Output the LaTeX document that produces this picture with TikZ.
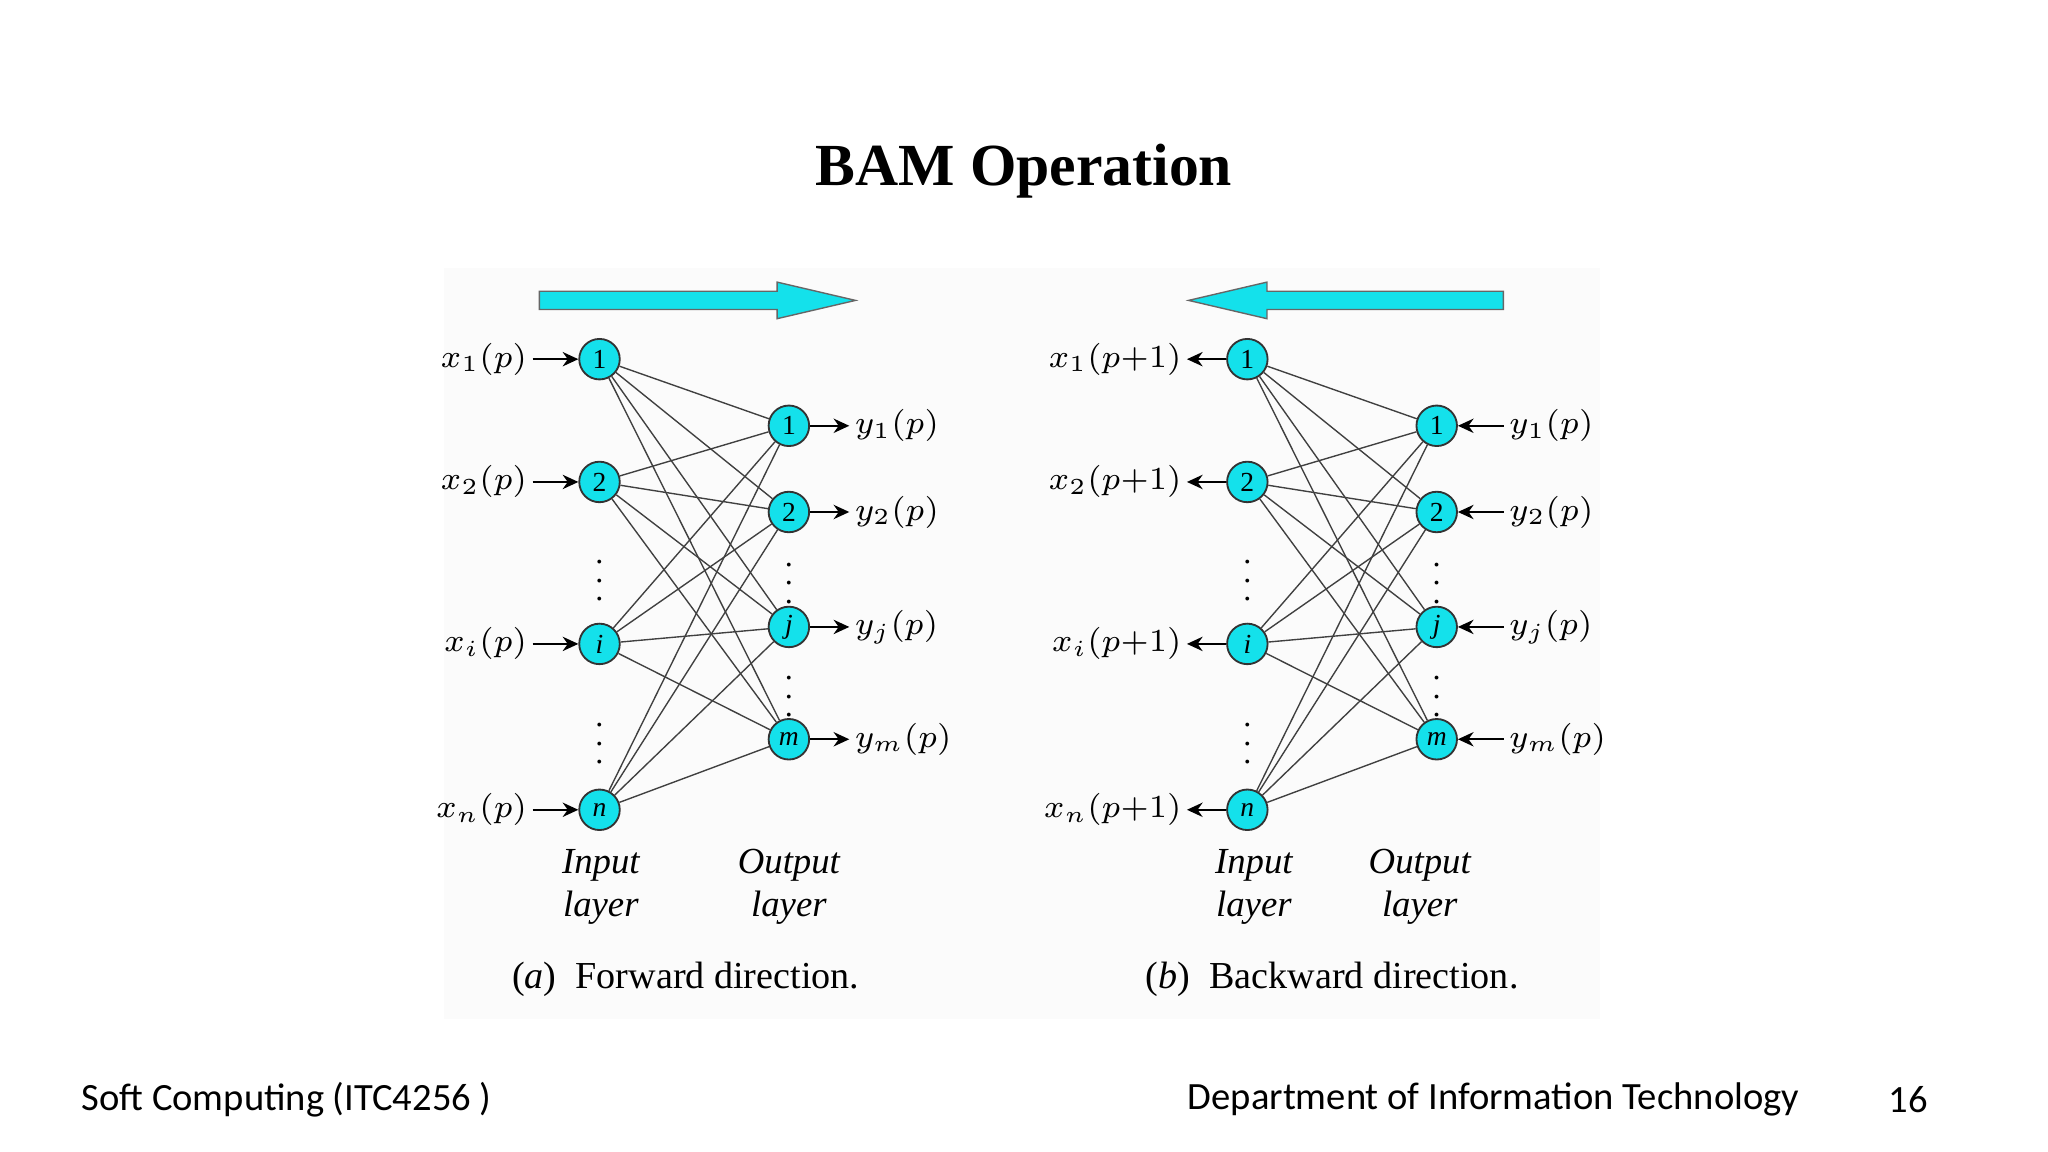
\documentclass[tikz,border=0pt]{standalone}
\usepackage{fontspec}
\setmainfont{Liberation Serif}
\newfontfamily\footfont{Carlito}
\usetikzlibrary{positioning,arrows.meta}
\definecolor{bamcyan}{RGB}{20,225,235}
\begin{document}
\begin{tikzpicture}[x=0.01cm,y=-0.01cm,
    neuron/.style={circle,draw=black!80,fill=bamcyan,inner sep=0pt,minimum size=0.31cm,font=\fontsize{6}{6}\selectfont},
    lbl/.style={font=\fontsize{7.5}{8}\selectfont,inner sep=1pt},
    caption/.style={font=\fontsize{8.3}{9}\selectfont},
    lay/.style={font=\fontsize{8}{9.5}\selectfont\itshape,align=center},
    sig/.style={-{Stealth[length=1.2mm,width=1.1mm]},thin},
    wire/.style={black!75,line width=0.3pt},
    vdots/.style={font=\fontsize{7}{7}\selectfont,inner sep=0pt}]
  \useasboundingbox (0,0) rectangle (1568,882);
  \fill[black!1.5] (340,205) rectangle (1225,780);

  \node[font=\fontsize{13}{14}\selectfont\bfseries] (Title) at (784,131) {BAM Operation};

  %% forward direction
  \draw[fill=bamcyan,draw=black!60,line width=0.3pt] (413,223) -- (595,223) -- (595,216) -- (655,230) -- (595,244) -- (595,237) -- (413,237) -- cycle;
  \foreach \n/\y/\t in {1/275/1,2/369/2,i/493/\textit{i},n/620/\textit{n}}
    \node[neuron] (AI\n) at (459,\y) {\t};
  \foreach \n/\y/\t in {1/326/1,2/392/2,j/480/\textit{j},m/566/\textit{m}}
    \node[neuron] (AO\n) at (604,\y) {\t};
  \foreach \a in {1,2,i,n}
    \foreach \b in {1,2,j,m}
      \draw[wire] (AI\a) -- (AO\b);
  \foreach \n/\t in {1/{x_1(p)},2/{x_2(p)},i/{x_i(p)},n/{x_n(p)}}{
    \node[lbl,left=0.35cm of AI\n] (AX\n) {$\t$};
    \draw[sig] (AX\n) -- (AI\n);}
  \foreach \n/\t in {1/{y_1(p)},2/{y_2(p)},j/{y_j(p)},m/{y_m(p)}}{
    \node[lbl,right=0.3cm of AO\n] (AY\n) {$\t$};
    \draw[sig] (AO\n) -- (AY\n);}
  \node[vdots] (AD1) at (459,434) {$\vdots$};
  \node[vdots] (AD2) at (459,559) {$\vdots$};
  \node[vdots] (AD3) at (604,436) {$\vdots$};
  \node[vdots] (AD4) at (604,523) {$\vdots$};
  \node[lay] (AIL) at (460,679) {Input\\layer};
  \node[lay] (AOL) at (604,679) {Output\\layer};
  \node[caption] (ACap) at (525,750) {(\textit{a})\enspace Forward direction.};

  %% backward direction
  \draw[fill=bamcyan,draw=black!60,line width=0.3pt] (1151,223) -- (970,223) -- (970,216) -- (910,230) -- (970,244) -- (970,237) -- (1151,237) -- cycle;
  \foreach \n/\y/\t in {1/275/1,2/369/2,i/493/\textit{i},n/620/\textit{n}}
    \node[neuron] (BI\n) at (955,\y) {\t};
  \foreach \n/\y/\t in {1/326/1,2/392/2,j/480/\textit{j},m/566/\textit{m}}
    \node[neuron] (BO\n) at (1100,\y) {\t};
  \foreach \a in {1,2,i,n}
    \foreach \b in {1,2,j,m}
      \draw[wire] (BI\a) -- (BO\b);
  \foreach \n/\t in {1/{x_1(p{+}1)},2/{x_2(p{+}1)},i/{x_i(p{+}1)},n/{x_n(p{+}1)}}{
    \node[lbl,left=0.3cm of BI\n] (BX\n) {$\t$};
    \draw[sig] (BI\n) -- (BX\n);}
  \foreach \n/\t in {1/{y_1(p)},2/{y_2(p)},j/{y_j(p)},m/{y_m(p)}}{
    \node[lbl,right=0.35cm of BO\n] (BY\n) {$\t$};
    \draw[sig] (BY\n) -- (BO\n);}
  \node[vdots] (BD1) at (955,434) {$\vdots$};
  \node[vdots] (BD2) at (955,559) {$\vdots$};
  \node[vdots] (BD3) at (1100,436) {$\vdots$};
  \node[vdots] (BD4) at (1100,523) {$\vdots$};
  \node[lay] (BIL) at (960,679) {Input\\layer};
  \node[lay] (BOL) at (1087,679) {Output\\layer};
  \node[caption] (BCap) at (1020,750) {(\textit{b})\enspace Backward direction.};

  %% footer
  \node[font=\footfont\fontsize{8.4}{9}\selectfont,anchor=west] (Course) at (50,842) {Soft Computing (ITC4256 )};
  \node[font=\footfont\fontsize{8.4}{9}\selectfont,anchor=east] (Dept) at (1390,842) {Department of Information Technology};
  \node[font=\footfont\fontsize{8.4}{9}\selectfont] (Page) at (1461,842) {16};
\end{tikzpicture}
\end{document}
